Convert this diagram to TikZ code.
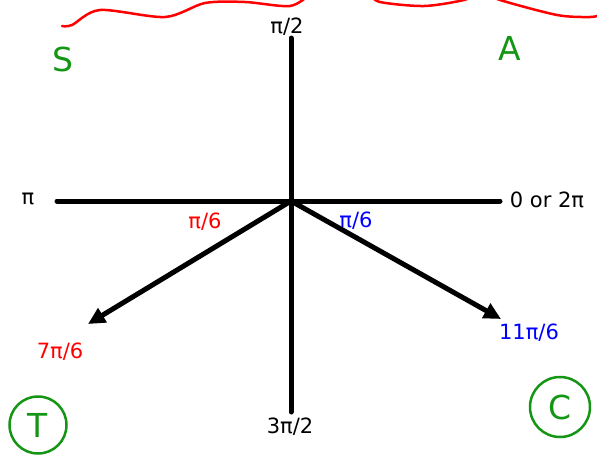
\documentclass[tikz,border=0pt]{standalone}
\usepackage{fontspec}
\setmainfont{DejaVu Sans}
\usepackage{tikz}
\usetikzlibrary{arrows.meta, positioning}
\usepackage{xcolor}
\definecolor{inkred}{RGB}{255,0,0}
\definecolor{inkgreen}{RGB}{20,150,20}
\definecolor{inkblue}{RGB}{0,0,255}

\begin{document}
\begin{tikzpicture}[x=1pt, y=-1pt, line cap=round,
  axis/.style={line width=5pt},
  ray/.style={line width=5pt, -{Triangle[length=17pt, width=16pt]}},
  lbl/.style={font=\fontsize{21}{21}\selectfont, inner sep=0pt},
  quad/.style={text=inkgreen, font=\fontsize{33}{33}\selectfont, inner sep=0pt}]
  \useasboundingbox (0,0) rectangle (597,455);
  \clip (0,0) rectangle (597,455);
  % wavy border on top
  \draw[inkred, line width=2.5pt, smooth] plot coordinates {(62,26) (72,25) (100,10) (165,17) (205,3) (245,2) (290,6) (310,-6)};
  \draw[inkred, line width=2.5pt, smooth] plot coordinates {(370,-6) (380,2) (424,6) (464,0) (475,-6)};
  \draw[inkred, line width=2.5pt, smooth] plot coordinates {(490,-6) (500,0) (557,15) (590,17) (600,15)};
  % axes
  \coordinate (O) at (291,201);
  \coordinate (top) at (291,38);
  \coordinate (bot) at (291,412);
  \coordinate (west) at (57,201);
  \coordinate (east) at (500,201);
  \coordinate (sw) at (88,324);
  \coordinate (se) at (501,319);
  \draw[axis] (top) -- (bot);
  \draw[axis] (west) -- (east);
  \draw[ray] (O) -- (sw);
  \draw[ray] (O) -- (se);
  % angle labels
  \node[lbl] (halfpi) at (287,27) {π/2};
  \node[lbl] (pi) at (28,199) {π};
  \node[lbl] (zero) at (547,200) {0 or 2π};
  \node[lbl] (threehalf) at (290,427) {3π/2};
  \node[lbl, text=inkred] (refl) at (205,222) {π/6};
  \node[lbl, text=inkblue] (refr) at (356,221) {π/6};
  \node[lbl, text=inkred] (sevensix) at (60,352) {7π/6};
  \node[lbl, text=inkblue] (elevensix) at (529,333) {11π/6};
  % quadrants
  \node[quad] (S) at (63,59) {S};
  \node[quad] (A) at (510,48) {A};
  \node[quad, circle, draw=inkgreen, line width=2.5pt, minimum size=57pt] (T) at (38,425) {T};
  \node[quad, circle, draw=inkgreen, line width=2.5pt, minimum size=60pt] (C) at (560,407) {C};
\end{tikzpicture}
\end{document}
